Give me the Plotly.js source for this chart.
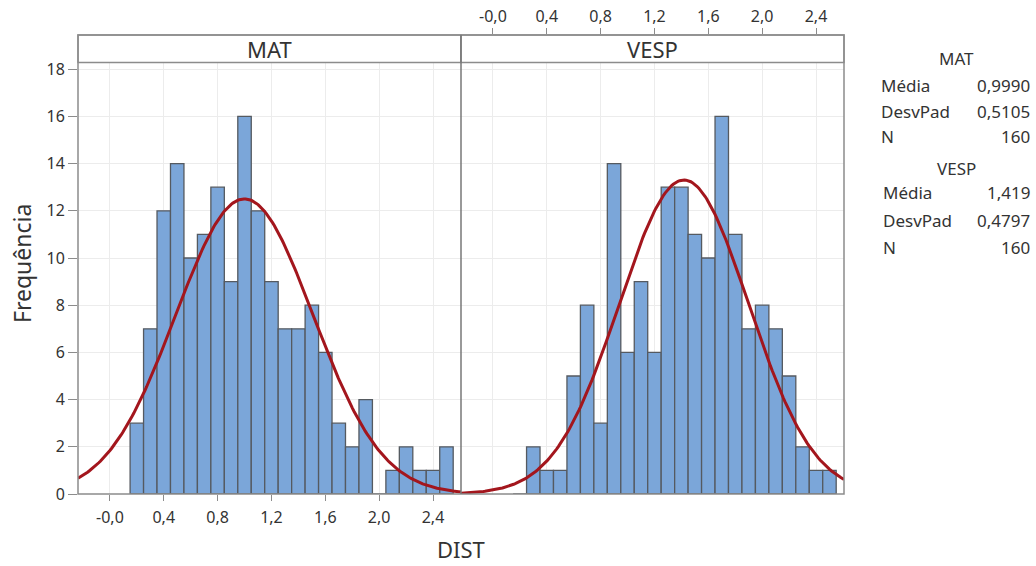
<!DOCTYPE html>
<html>
<head>
<meta charset="utf-8">
<script src="https://cdn.plot.ly/plotly-3.0.1.min.js"></script>
<style>html,body{margin:0;padding:0;background:#fff;}#chart{width:1036px;height:566px;}</style>
</head>
<body>
<div id="chart"></div>
<script>
// ---- data ----
const binCenters = [0.2,0.3,0.4,0.5,0.6,0.7,0.8,0.9,1.0,1.1,1.2,1.3,1.4,1.5,1.6,1.7,1.8,1.9,2.0,2.1,2.2,2.3,2.4,2.5];
const matCounts  = [3,7,12,14,10,11,13,9,16,12,9,7,7,8,6,3,2,4,0,1,2,1,1,2];
const vespCounts = [0,2,1,1,5,8,3,14,6,9,6,13,13,11,10,16,11,7,8,7,5,2,1,1];
const binWidth = 0.1;
const panels = ["MAT","VESP"];
const means = [0.9990, 1.419];
const sds = [0.5105, 0.4797];
const ns = [160, 160];
const meanLabels = ["0,9990","1,419"];
const sdLabels = ["0,5105","0,4797"];
const nLabels = ["160","160"];
const statNames = ["Média","DesvPad","N"];
const xTickVals = [0,0.4,0.8,1.2,1.6,2.0,2.4];
const xTickText = ["-0,0","0,4","0,8","1,2","1,6","2,0","2,4"];
const yTickVals = [0,2,4,6,8,10,12,14,16,18];
const xRange = [-0.237, 2.608];
const yRange = [0, 19.45];

// ---- layout helpers (pixel geometry) ----
const L=78, R=844, T=35, B=494;
const px = v => (v - L)/(R - L);
const py = v => (B - v)/(B - T);
const FONT = "Noto Sans, Open Sans, sans-serif";
const TXT = "#333333";
const FRAME = "#8c8c8c";

// fitted normal curves from displayed statistics
function fitCurve(i){
  const xs=[], ys=[];
  const steps=240;
  for(let k=0;k<=steps;k++){
    const x = xRange[0] + (xRange[1]-xRange[0])*k/steps;
    const z = (x-means[i])/sds[i];
    xs.push(x);
    ys.push(ns[i]*binWidth/(sds[i]*Math.sqrt(2*Math.PI))*Math.exp(-0.5*z*z));
  }
  return {xs, ys};
}
const c0 = fitCurve(0), c1 = fitCurve(1);

const barStyle = {color:"#7ba6d9", line:{color:"#555a60", width:1.3}};
const traces = [
  {type:"bar", x:binCenters, y:matCounts, width:binWidth, marker:barStyle, xaxis:"x", yaxis:"y"},
  {type:"scatter", mode:"lines", x:c0.xs, y:c0.ys, line:{color:"#a3161d", width:3}, xaxis:"x", yaxis:"y"},
  {type:"bar", x:binCenters, y:vespCounts, width:binWidth, marker:barStyle, xaxis:"x2", yaxis:"y2"},
  {type:"scatter", mode:"lines", x:c1.xs, y:c1.ys, line:{color:"#a3161d", width:3}, xaxis:"x2", yaxis:"y2"}
];

const stripY0 = py(62.5);
const axisCommon = {
  range:xRange, tickvals:xTickVals, ticktext:xTickText,
  showgrid:true, gridcolor:"#ececec", gridwidth:1, zeroline:false,
  ticks:"outside", ticklen:6, tickcolor:FRAME, tickwidth:1,
  showline:false, tickfont:{family:FONT, size:16, color:TXT}
};

function ann(text, x, y, xanchor, size, extra){
  return Object.assign({text:text, x:x, y:y, xref:"paper", yref:"paper", showarrow:false,
    xanchor:xanchor, yanchor:"middle", font:{family:FONT,size:size,color:TXT}}, extra||{});
}

const annotations = [
  ann("MAT", 0.25, (stripY0+1)/2, "center", 22),
  ann("VESP", 0.75, (stripY0+1)/2, "center", 22),
  ann("DIST", px(461), py(549), "center", 22),
  ann("Frequência", px(22), py(264), "center", 23, {textangle:-90})
];
// statistics table
const statRows = [[58,85,111,136],[168,193,220,247]];
const statLeft = [879,881];
const statHead = [956,957];
const statVals = [meanLabels, sdLabels, nLabels];
for(let i=0;i<2;i++){
  annotations.push(ann(panels[i], px(statHead[i]), py(statRows[i][0]), "center", 17));
  for(let r=0;r<3;r++){
    annotations.push(ann(statNames[r], px(statLeft[i]), py(statRows[i][r+1]), "left", 17));
    annotations.push(ann(statVals[r][i], px(1032), py(statRows[i][r+1]), "right", 17));
  }
}

const shapes = [
  {type:"rect", xref:"paper", yref:"paper", x0:0, x1:0.5, y0:stripY0, y1:1, fillcolor:"#ffffff", line:{color:FRAME,width:1.5}, layer:"above"},
  {type:"rect", xref:"paper", yref:"paper", x0:0.5, x1:1, y0:stripY0, y1:1, fillcolor:"#ffffff", line:{color:FRAME,width:1.5}, layer:"above"},
  {type:"rect", xref:"paper", yref:"paper", x0:0, x1:1, y0:0, y1:1, line:{color:FRAME,width:1.5}, layer:"above"},
  {type:"line", xref:"paper", yref:"paper", x0:0.5, x1:0.5, y0:0, y1:1, line:{color:"#777",width:1.5}, layer:"above"}
];

const layout = {
  width:1036, height:566,
  margin:{l:L, r:1036-R, t:T, b:566-B, pad:0},
  paper_bgcolor:"#ffffff", plot_bgcolor:"#ffffff",
  showlegend:false, bargap:0,
  font:{family:FONT, color:TXT},
  xaxis:Object.assign({}, axisCommon, {domain:[0,0.5], anchor:"y", side:"bottom", ticklabelstandoff:3}),
  xaxis2:Object.assign({}, axisCommon, {domain:[0.5,1], anchor:"y2", side:"top"}),
  yaxis:{range:yRange, tickvals:yTickVals, showgrid:true, gridcolor:"#ececec", zeroline:false,
         ticks:"outside", ticklen:9, tickcolor:FRAME, showline:false,
         tickfont:{family:FONT,size:16,color:TXT}, anchor:"x"},
  yaxis2:{range:yRange, tickvals:yTickVals, showgrid:true, gridcolor:"#ececec", zeroline:false,
          showticklabels:false, ticks:"", anchor:"x2", matches:"y"},
  shapes:shapes, annotations:annotations
};

Plotly.newPlot("chart", traces, layout, {displayModeBar:false, staticPlot:true});
</script>
</body>
</html>
